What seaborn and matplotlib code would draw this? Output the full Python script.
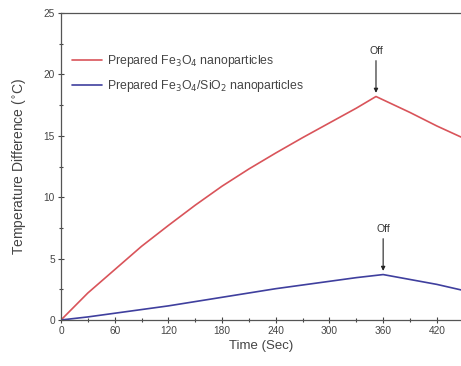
import numpy as np
import pandas as pd
import matplotlib
matplotlib.use("Agg")
import matplotlib.pyplot as plt
import seaborn as sns

# Data
time_red = [0, 30, 60, 90, 120, 150, 180, 210, 240, 270, 300, 330, 352, 390, 420, 447]
temp_red = [0, 2.2, 4.1, 6.0, 7.7, 9.35, 10.9, 12.3, 13.6, 14.85, 16.05, 17.25, 18.2, 16.9, 15.8, 14.9]
time_blue = [0, 30, 60, 90, 120, 150, 180, 210, 240, 270, 300, 330, 360, 390, 420, 447]
temp_blue = [0, 0.25, 0.55, 0.85, 1.15, 1.5, 1.85, 2.2, 2.55, 2.85, 3.15, 3.45, 3.7, 3.3, 2.9, 2.45]
series_names = ["Prepared Fe$_3$O$_4$ nanoparticles",
                "Prepared Fe$_3$O$_4$/SiO$_2$ nanoparticles"]
series_colors = ["#d9545a", "#3f3f9e"]
off_times = [352, 360]
off_values = [18.2, 3.7]
x_ticks = [0, 60, 120, 180, 240, 300, 360, 420]
y_ticks = [0, 5, 10, 15, 20, 25]

df = pd.concat([
    pd.DataFrame({"Time": time_red, "Temp": temp_red, "Series": series_names[0]}),
    pd.DataFrame({"Time": time_blue, "Temp": temp_blue, "Series": series_names[1]}),
])

sns.set_style("white")
plt.rcParams['font.family'] = ['Liberation Sans', 'DejaVu Sans']

fig = plt.figure(figsize=(4.61, 3.66), dpi=100)
ax = fig.add_axes([61/461, 46/366, 400/461, 307/366])

sns.lineplot(data=df, x="Time", y="Temp", hue="Series", palette=series_colors,
             ax=ax, linewidth=1.2, sort=False, estimator=None)

ax.set_xlim(0, 447)
ax.set_ylim(0, 25)
ax.set_xticks(x_ticks)
ax.set_yticks(y_ticks)
ax.set_xticks(np.arange(30, 447, 60), minor=True)
ax.set_yticks(np.arange(2.5, 25, 5), minor=True)
ax.tick_params(which='major', direction='inout', length=5, width=0.8,
               labelsize=7.3, colors='#444444', labelcolor='#444444', pad=2)
ax.tick_params(which='minor', direction='inout', length=3, width=0.8, colors='#444444')
ax.tick_params(axis='both', which='both', bottom=True, left=True)

for s in ['left', 'bottom', 'top']:
    ax.spines[s].set_color('#555555')
    ax.spines[s].set_linewidth(0.9)
ax.spines['right'].set_visible(False)

ax.set_xlabel("Time (Sec)", fontsize=9.5, color='#444444', labelpad=3)
ax.set_ylabel("Temperature Difference ($^{\\circ}$C)", fontsize=10, color='#444444', labelpad=11)

leg = ax.legend(loc='upper left', bbox_to_anchor=(0.0, 0.905), frameon=False,
                fontsize=8.8, handlelength=2.45, handletextpad=0.4, labelspacing=0.75,
                labelcolor='#444444')

for t, v in zip(off_times, off_values):
    ax.annotate("Off", xy=(t, v + 0.3), xytext=(t, v + 3.3), ha='center', va='bottom',
                fontsize=7.5, color='#333333',
                arrowprops=dict(arrowstyle='-|>', color='#222222', lw=0.8,
                                mutation_scale=6, shrinkA=1, shrinkB=0))

fig.savefig("out.png", dpi=100)
